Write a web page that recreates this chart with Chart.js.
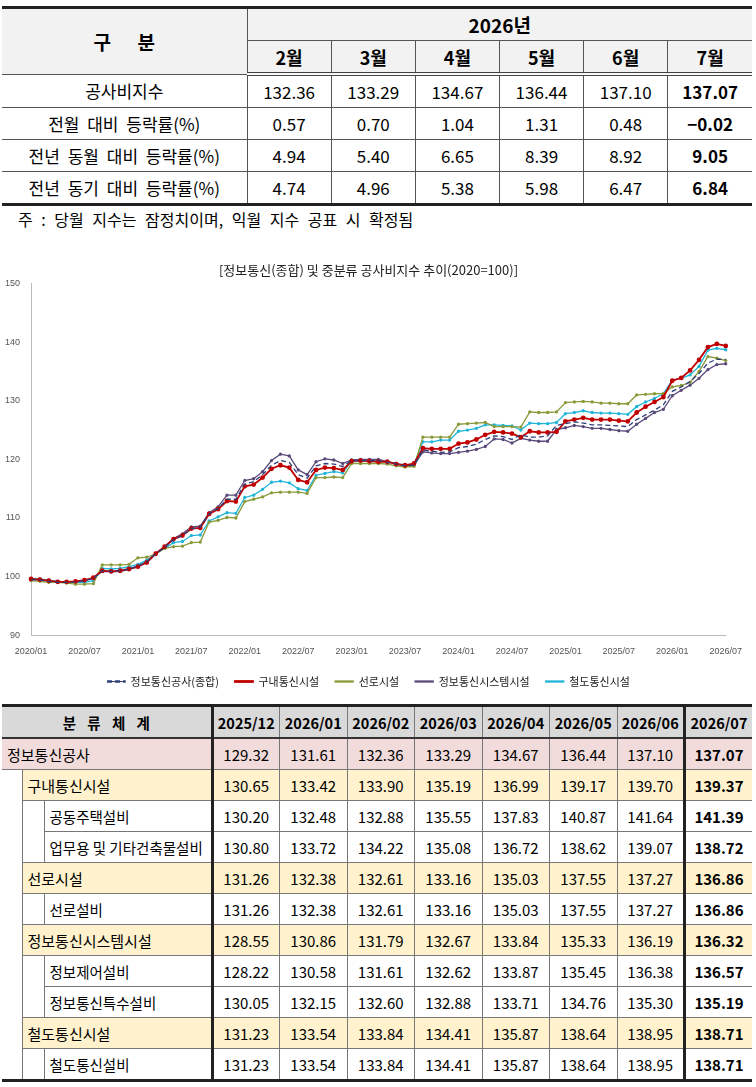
<!DOCTYPE html>
<html>
<head>
<meta charset="utf-8">
<script src="https://cdn.jsdelivr.net/npm/chart.js@4.4.0/dist/chart.umd.min.js"></script>
<style>
  body { margin: 0; width: 756px; height: 1087px; background: #fff; font-family: "Noto Sans CJK KR", "Noto Sans", sans-serif; overflow: hidden; }
  table { border-collapse: collapse; table-layout: fixed; }
  #top { position: absolute; left: 2px; top: 6px; width: 750px; font-size: 17px; word-spacing: 4px; }
  #top td, #top th { border: 1px solid #555; height: 31px; text-align: center; padding: 0; }
  #top th { background: #f2f2f2; font-weight: bold; }
  #top tr:first-child th { border-top: 3px solid #222; }
  #top tr:nth-child(2) th { border-bottom: 4px double #444; }
  #top tr:last-child td { border-bottom: 3px solid #222; }
  #top td:first-child, #top th:first-child { border-left: none; }
  #top td:last-child, #top th:last-child { border-right: none; }
  #top .b { font-weight: bold; }
  #note { position: absolute; left: 18px; top: 207px; font-size: 16px; word-spacing: 5px; }
  #chartBox { position: absolute; left: 0; top: 262px; width: 745px; height: 435px; }
  #bot { position: absolute; left: 2px; top: 704px; width: 750px; font-size: 15px; white-space: nowrap; }
  #bot td, #bot th { border: 1px solid #777; height: 30px; padding: 0; text-align: center; overflow: hidden; }
  #bot th { background: #d9d9d9; font-weight: bold; font-size: 14.5px; border-top: 3px solid #222; border-bottom: 2px solid #333; }
  #bot td.l { text-align: left; padding-left: 5px; }
  #bot td.e { border-top: none; border-bottom: none; }
  #bot .sep { border-left: 3px solid #222; }
  #bot .b { font-weight: bold; }
  #bot tr:last-child td { border-bottom: 3px solid #222; }
  #bot tr.p td:not(.e) { background: #f2dcdb; }
  #bot tr.y td:not(.e) { background: #fff2cc; }
</style>
</head>
<body>
<table id="top"></table>
<div id="note">주 : 당월 지수는 잠정치이며, 익월 지수 공표 시 확정됨</div>
<div id="chartBox"><canvas id="trendChart"></canvas></div>
<table id="bot"></table>
<script>
const months = ["2월", "3월", "4월", "5월", "6월", "7월"];
const summary = [
  ["공사비지수", "132.36", "133.29", "134.67", "136.44", "137.10", "137.07"],
  ["전월 대비 등락률(%)", "0.57", "0.70", "1.04", "1.31", "0.48", "-0.02"],
  ["전년 동월 대비 등락률(%)", "4.94", "5.40", "6.65", "8.39", "8.92", "9.05"],
  ["전년 동기 대비 등락률(%)", "4.74", "4.96", "5.38", "5.98", "6.47", "6.84"],
];

let html = '<colgroup><col style="width:245px">' + months.map(() => '<col>').join('') + '</colgroup>';
html += '<tr><th rowspan="2" style="font-size:19px;word-spacing:22px">구 분</th><th colspan="6" style="font-size:19px">2026년</th></tr>';
html += '<tr>' + months.map((m) => `<th style="font-size:18px">${m}</th>`).join('') + '</tr>';
summary.forEach((row) => {
  html += '<tr>' + row.map((v, i) => `<td class="${i === 6 ? 'b' : ''}">${v === "-0.02" ? "&minus;0.02" : v}</td>`).join('') + '</tr>';
});
document.getElementById("top").innerHTML = html;

const cols = ["2025/12", "2026/01", "2026/02", "2026/03", "2026/04", "2026/05", "2026/06", "2026/07"];
const detail = [
  { name: "정보통신공사", lv: 0, cls: "p", v: [129.32, 131.61, 132.36, 133.29, 134.67, 136.44, 137.10, 137.07] },
  { name: "구내통신시설", lv: 1, cls: "y", v: [130.65, 133.42, 133.90, 135.19, 136.99, 139.17, 139.70, 139.37] },
  { name: "공동주택설비", lv: 2, v: [130.20, 132.48, 132.88, 135.55, 137.83, 140.87, 141.64, 141.39] },
  { name: "업무용 및 기타건축물설비", lv: 2, v: [130.80, 133.72, 134.22, 135.08, 136.72, 138.62, 139.07, 138.72] },
  { name: "선로시설", lv: 1, cls: "y", v: [131.26, 132.38, 132.61, 133.16, 135.03, 137.55, 137.27, 136.86] },
  { name: "선로설비", lv: 2, v: [131.26, 132.38, 132.61, 133.16, 135.03, 137.55, 137.27, 136.86] },
  { name: "정보통신시스템시설", lv: 1, cls: "y", v: [128.55, 130.86, 131.79, 132.67, 133.84, 135.33, 136.19, 136.32] },
  { name: "정보제어설비", lv: 2, v: [128.22, 130.58, 131.61, 132.62, 133.87, 135.45, 136.38, 136.57] },
  { name: "정보통신특수설비", lv: 2, v: [130.05, 132.15, 132.60, 132.88, 133.71, 134.76, 135.30, 135.19] },
  { name: "철도통신시설", lv: 1, cls: "y", v: [131.23, 133.54, 133.84, 134.41, 135.87, 138.64, 138.95, 138.71] },
  { name: "철도통신설비", lv: 2, v: [131.23, 133.54, 133.84, 134.41, 135.87, 138.64, 138.95, 138.71] },
];

let bh = '<colgroup><col style="width:20px"><col style="width:22px"><col style="width:168px">' + cols.map(() => '<col>').join('') + '</colgroup>';
bh += '<tr><th colspan="3" style="word-spacing:8px;border-left:none">분 류 체 계</th>' +
  cols.map((c, i) => `<th class="${i === 0 || i === 7 ? 'sep' : ''}" style="${i === 7 ? 'border-right:none' : ''}">${c}</th>`).join('') + '</tr>';
detail.forEach((r) => {
  let cells = '';
  for (let i = 0; i < r.lv; i++) cells += `<td class="e" style="${i === 0 ? 'border-left:none' : ''}"></td>`;
  cells += `<td class="l" colspan="${3 - r.lv}" style="${r.lv === 0 ? 'border-left:none' : ''}${r.lv === 2 ? ';font-size:14.5px' : ''}">${r.name}</td>`;
  cells += r.v.map((v, i) => `<td class="${i === 0 || i === 7 ? 'sep' : ''} ${i === 7 ? 'b' : ''}" style="${i === 7 ? 'border-right:none' : ''}">${v.toFixed(2)}</td>`).join('');
  bh += `<tr class="${r.cls || ''}">${cells}</tr>`;
});
document.getElementById("bot").innerHTML = bh;

const labels = [];
for (let y = 2020; y <= 2026; y++) {
  for (let m = 1; m <= 12; m++) {
    if (y === 2026 && m > 7) break;
    labels.push(`${y}/${String(m).padStart(2, "0")}`);
  }
}

const composite = [
  99.5, 99.4, 99.2, 99.0, 99.0, 99.1, 99.3, 99.7, 101.0, 100.9, 101.0, 101.3,
  101.8, 102.5, 103.9, 105.0, 106.3, 107.0, 108.2, 108.4, 110.7, 111.6, 113.2, 113.2,
  115.8, 116.2, 117.4, 119.0, 119.8, 119.5, 117.4, 116.8, 118.9, 119.3, 119.2, 118.8,
  119.8, 119.8, 119.8, 119.8, 119.5, 119.2, 118.9, 119.0, 121.6, 121.4, 121.2, 121.3,
  122.0, 122.2, 122.6, 123.4, 124.0, 123.9, 123.4, 124.2, 123.8, 123.8, 124.0, 125.8,
  126.1, 126.4, 126.2, 125.9, 125.9, 125.8, 125.7, 125.6, 126.8, 127.6, 128.4, 129.32,
  131.61, 132.36, 133.29, 134.67, 136.44, 137.10, 137.07,
];
const indoor = [
  99.6, 99.5, 99.3, 99.1, 99.1, 99.2, 99.4, 99.8, 101.0, 100.9, 101.0, 101.3,
  101.7, 102.4, 103.9, 105.1, 106.4, 107.0, 108.2, 108.3, 110.7, 111.5, 112.9, 112.8,
  115.4, 115.7, 116.9, 118.4, 119.0, 118.6, 116.5, 116.1, 118.2, 118.6, 118.5, 118.2,
  119.7, 119.8, 119.7, 119.6, 119.6, 119.2, 119.0, 119.3, 121.9, 121.8, 121.8, 121.8,
  122.7, 122.9, 123.4, 124.2, 124.7, 124.6, 124.4, 123.8, 124.8, 124.6, 124.6, 124.7,
  126.5, 126.8, 127.1, 126.8, 126.8, 126.8, 126.6, 126.5, 128.0, 129.0, 129.8, 130.65,
  133.42, 133.90, 135.19, 136.99, 139.17, 139.70, 139.37,
];
const line = [
  99.3, 99.2, 99.0, 99.0, 98.9, 98.7, 98.7, 98.8, 102.0, 102.0, 102.0, 102.1,
  103.2, 103.3, 103.9, 104.8, 105.1, 105.2, 105.8, 105.9, 109.3, 109.6, 110.1, 110.0,
  112.8, 113.2, 113.6, 114.3, 114.4, 114.4, 114.4, 114.2, 116.9, 116.9, 117.0, 116.9,
  119.3, 119.3, 119.3, 119.3, 119.2, 118.9, 118.7, 118.8, 123.8, 123.8, 123.8, 123.8,
  126.0, 126.1, 126.2, 126.3, 125.6, 125.6, 125.6, 125.5, 128.1, 128.0, 128.0, 128.1,
  129.7, 129.8, 129.9, 129.8, 129.6, 129.6, 129.5, 129.5, 131.0, 131.1, 131.2, 131.26,
  132.38, 132.61, 133.16, 135.03, 137.55, 137.27, 136.86,
];
const system = [
  99.5, 99.4, 99.2, 99.0, 99.0, 99.1, 99.3, 99.7, 100.9, 100.8, 100.9, 101.2,
  101.7, 102.6, 104.0, 105.1, 106.5, 107.3, 108.5, 108.6, 110.9, 111.9, 113.9, 113.9,
  116.4, 116.7, 117.9, 119.8, 120.9, 120.6, 118.2, 117.4, 119.6, 120.1, 119.9, 119.3,
  119.9, 120.0, 120.0, 120.0, 119.6, 119.3, 118.9, 119.0, 121.3, 121.1, 121.0, 121.0,
  121.2, 121.4, 121.7, 122.2, 123.5, 123.4, 122.8, 123.6, 123.3, 123.1, 123.1, 125.1,
  125.4, 125.8, 125.6, 125.3, 125.3, 125.1, 124.9, 124.8, 126.0, 127.0, 128.0, 128.55,
  130.86, 131.79, 132.67, 133.84, 135.33, 136.19, 136.32,
];
const railway = [
  99.7, 99.6, 99.4, 99.2, 99.1, 99.0, 99.0, 99.3, 101.4, 101.3, 101.4, 101.7,
  102.1, 102.8, 103.9, 104.8, 105.8, 106.0, 107.0, 107.1, 109.5, 110.2, 110.9, 110.8,
  113.5, 113.9, 114.9, 116.1, 116.3, 116.0, 115.0, 114.7, 117.3, 117.6, 117.9, 117.7,
  119.8, 119.8, 119.8, 119.8, 119.6, 119.2, 119.1, 119.1, 123.0, 123.0, 123.3, 123.3,
  124.8, 125.0, 125.3, 125.9, 125.9, 125.8, 125.7, 125.0, 126.2, 126.1, 126.1, 126.3,
  127.8, 128.0, 128.3, 128.0, 127.9, 127.9, 127.8, 127.7, 129.0, 129.8, 130.4, 131.23,
  133.54, 133.84, 134.41, 135.87, 138.64, 138.95, 138.71,
];

function series(label, data, color, extra) {
  return Object.assign({
    label: label,
    data: data,
    borderColor: color,
    backgroundColor: color,
    borderWidth: 1.3,
    pointRadius: 1,
    pointStyle: "circle",
    tension: 0,
  }, extra || {});
}

new Chart(document.getElementById("trendChart"), {
  type: "line",
  data: {
    labels: labels,
    datasets: [
      series("정보통신공사(종합)", composite, "#2f3f7a", { borderDash: [5, 3], pointRadius: 0 }),
      series("구내통신시설", indoor, "#c00000", { borderWidth: 1.8, pointRadius: 1.5 }),
      series("선로시설", line, "#8a9a3a"),
      series("정보통신시스템시설", system, "#5a4a7a"),
      series("철도통신시설", railway, "#1fb4d8"),
    ],
  },
  options: {
    responsive: true,
    maintainAspectRatio: false,
    animation: false,
    layout: { padding: { left: 2, right: 10 } },
    plugins: {
      title: {
        display: true,
        text: "[정보통신(종합) 및 중분류 공사비지수 추이(2020=100)]",
        color: "#222",
        font: { size: 13, weight: "normal", family: "Noto Sans CJK KR" },
        padding: { top: 0, bottom: 6 },
      },
      legend: {
        position: "bottom",
        labels: { boxWidth: 18, boxHeight: 1, color: "#222", font: { size: 11, family: "Noto Sans CJK KR" }, padding: 16 },
      },
    },
    scales: {
      x: {
        grid: { display: false },
        border: { color: "#bbb" },
        ticks: {
          color: "#555",
          font: { size: 9 },
          maxRotation: 0,
          autoSkip: false,
          callback: function (v, i) { return i % 6 === 0 ? labels[i] : null; },
        },
      },
      y: {
        min: 90,
        max: 150,
        grid: { display: false },
        border: { color: "#bbb" },
        ticks: { stepSize: 10, color: "#555", font: { size: 9 } },
      },
    },
  },
});
</script>
</body>
</html>
